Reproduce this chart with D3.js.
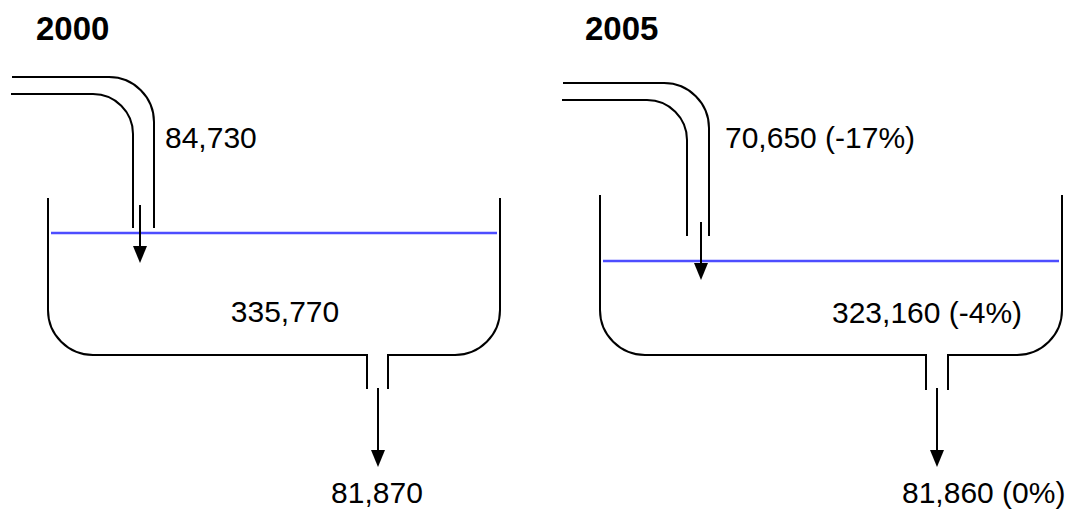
<!DOCTYPE html>
<html>
<head>
<meta charset="utf-8">
<script src="https://cdn.jsdelivr.net/npm/d3@7"></script>
<style>
  body { margin: 0; background: #fff; }
  svg { display: block; font-family: Arial, "Liberation Sans", sans-serif; }
</style>
</head>
<body>
<div id="chart"></div>
<script>
// data
var years = ["2000", "2005"];
var inflow = [84730, 70650];
var stock = [335770, 323160];
var outflow = [81870, 81860];
var inflowChange = ["", "(-17%)"];
var stockChange = ["", "(-4%)"];
var outflowChange = ["", "(0%)"];

// panel geometry (hand placed, like the original drawing)
var panels = [
  { title: [36, 40], pipe: { x0: 12, yOut: 77, yIn: 94, xOut: 154, xIn: 133, end: 228 },
    inArrow: { x: 140, y0: 205, tip: 263 },
    tank: { l: 48, r: 500, top: 198, bottom: 355, oL: 367, oR: 388, oB: 389 },
    outArrow: { x: 378, y0: 388, tip: 467 },
    inLabel: [165, 148, "start"], stockLabel: [285, 322, "middle"], outLabel: [377, 503, "middle"] },
  { title: [585, 40], pipe: { x0: 563, yOut: 83, yIn: 100, xOut: 709, xIn: 687, end: 236 },
    inArrow: { x: 701, y0: 222, tip: 280 },
    tank: { l: 600, r: 1062, top: 195, bottom: 355, oL: 926, oR: 948, oB: 390 },
    outArrow: { x: 937, y0: 388, tip: 467 },
    inLabel: [725, 148, "start"], stockLabel: [832, 323, "start"], outLabel: [902, 503, "start"] }
];

var width = 1072, height = 509;
var rOut = 45, rIn = 40, rTank = 45;

var svg = d3.select("#chart")
  .append("svg")
  .attr("width", width)
  .attr("height", height);

// water level scale: stock -> y pixel
var levelY = d3.scaleLinear()
  .domain([320000, 340000])
  .range([268, 223.6]);

var fmt = d3.format(",");

function arrow(g, a) {
  g.append("line")
    .attr("x1", a.x).attr("x2", a.x)
    .attr("y1", a.y0).attr("y2", a.tip - 12)
    .attr("stroke", "#000").attr("stroke-width", 2);
  g.append("path")
    .attr("d", "M" + (a.x - 7) + "," + (a.tip - 17) + "L" + (a.x + 7) + "," + (a.tip - 17) + "L" + a.x + "," + a.tip + "Z")
    .attr("fill", "#000");
}

years.forEach(function (yr, i) {
  var p = panels[i];
  var g = svg.append("g");

  // title
  g.append("text")
    .attr("x", p.title[0]).attr("y", p.title[1])
    .style("font-size", "33px").style("font-weight", "bold")
    .text(yr);

  // inflow pipe
  var q = p.pipe;
  g.append("path")
    .attr("d", "M" + q.x0 + "," + q.yOut + "H" + (q.xOut - rOut) +
      "A" + rOut + "," + rOut + " 0 0 1 " + q.xOut + "," + (q.yOut + rOut) + "V" + q.end)
    .attr("fill", "none").attr("stroke", "#000").attr("stroke-width", 2);
  g.append("path")
    .attr("d", "M" + (q.x0 - 1) + "," + q.yIn + "H" + (q.xIn - rIn) +
      "A" + rIn + "," + rIn + " 0 0 1 " + q.xIn + "," + (q.yIn + rIn) + "V" + q.end)
    .attr("fill", "none").attr("stroke", "#000").attr("stroke-width", 2);

  // tank
  var t = p.tank;
  g.append("path")
    .attr("d", "M" + t.l + "," + t.top + "V" + (t.bottom - rTank) +
      "A" + rTank + "," + rTank + " 0 0 0 " + (t.l + rTank) + "," + t.bottom +
      "H" + t.oL + "V" + t.oB +
      "M" + t.oR + "," + t.oB + "V" + t.bottom + "H" + (t.r - rTank) +
      "A" + rTank + "," + rTank + " 0 0 0 " + t.r + "," + (t.bottom - rTank) + "V" + t.top)
    .attr("fill", "none").attr("stroke", "#000").attr("stroke-width", 2);

  // water level
  g.append("line")
    .attr("x1", t.l + 3).attr("x2", t.r - 3)
    .attr("y1", levelY(stock[i])).attr("y2", levelY(stock[i]))
    .attr("stroke", "#4d4dff").attr("stroke-width", 2.5);

  // arrows
  arrow(g, p.inArrow);
  arrow(g, p.outArrow);

  // labels
  function label(pos, txt) {
    g.append("text")
      .attr("x", pos[0]).attr("y", pos[1])
      .attr("text-anchor", pos[2])
      .style("font-size", "30px")
      .text(txt);
  }
  label(p.inLabel, fmt(inflow[i]) + (inflowChange[i] ? " " + inflowChange[i] : ""));
  label(p.stockLabel, fmt(stock[i]) + (stockChange[i] ? " " + stockChange[i] : ""));
  label(p.outLabel, fmt(outflow[i]) + (outflowChange[i] ? " " + outflowChange[i] : ""));
});
</script>
</body>
</html>
